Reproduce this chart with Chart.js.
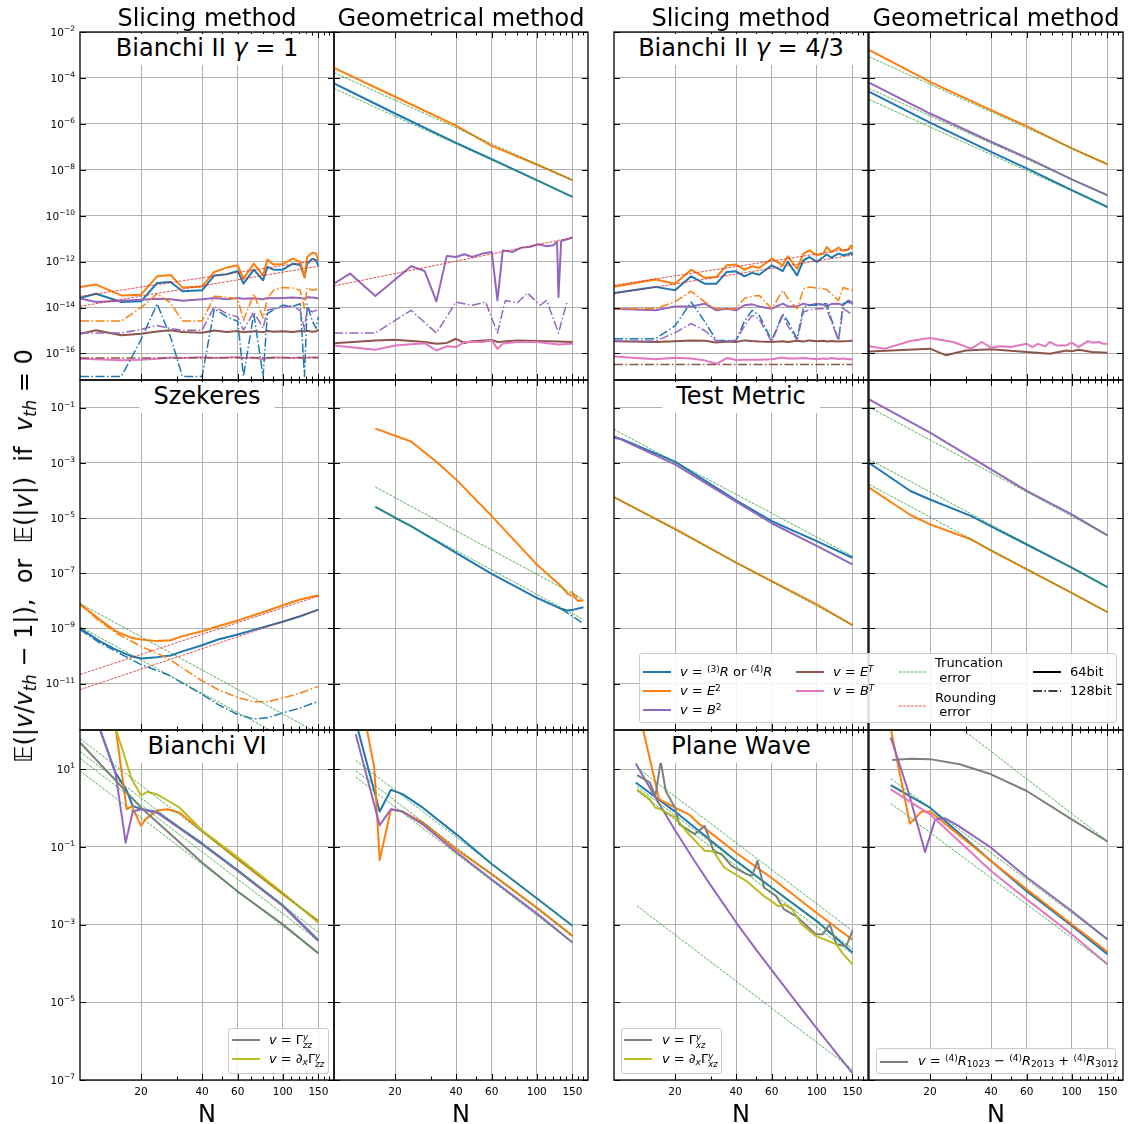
<!DOCTYPE html>
<html>
<head>
<meta charset="utf-8">
<script src="https://cdn.jsdelivr.net/npm/chart.js@4.4.1/dist/chart.umd.min.js"></script>
<style>
  body { margin: 0; background: #fff; }
  #fig { position: relative; width: 1131px; height: 1124px; overflow: hidden; font-family: "DejaVu Sans", sans-serif; color: #000; }
  #fig canvas { position: absolute; }
  .t { position: absolute; white-space: nowrap; font-size: 24px; line-height: 24px; }
  .tag { position: absolute; white-space: nowrap; font-size: 24px; line-height: 24px; background: #fff; padding: 2px 14px 5px 14px; transform: translateX(-50%); }
  .box { position: absolute; background: rgba(255,255,255,0.85); border: 1px solid #ccc; border-radius: 3px; box-sizing: border-box; }
  .lg { position: absolute; font-size: 13px; line-height: 18px; white-space: nowrap; }
  .lg svg { position: absolute; }
  sub, sup { font-size: 70%; line-height: 0; }
  sup { vertical-align: 0.45em; }
  sub { vertical-align: -0.25em; }
  .ss { display: inline-flex; flex-direction: column; font-size: 0.65em; line-height: 1; vertical-align: 0.5em; font-style: italic; }
</style>
</head>
<body>
<div id="fig"></div>
<script>
// matplotlib tab10 colours
var BLUE = '#1f77b4', ORANGE = '#ff7f0e', GREEN = '#2ca02c', RED = '#d62728', PURPLE = '#9467bd',
    BROWN = '#8c564b', PINK = '#e377c2', GRAY = '#7f7f7f', OLIVE = '#bcbd22';

// x axis (resolution N), shared by all panels
var xMajor = [20, 40, 60, 100, 150];
var xMinor = [30, 50, 70, 80, 90, 110, 120, 130, 140, 160, 170];
// y axis decades (powers of ten) for each row of panels
var yDecRow1 = [-16, -14, -12, -10, -8, -6, -4, -2];
var yDecRow2 = [-11, -9, -7, -5, -3, -1];
var yDecRow3 = [-7, -5, -3, -1, 1];

// every error value below is given as its power of ten
var nEnds = [10, 150];

// ---- Bianchi II gamma=1, slicing ----
var p1N = [10, 12, 16, 20, 24, 28, 32, 40, 46, 53, 60, 64, 72, 80, 84, 90, 100, 112, 122, 128, 132, 140, 146, 150];
var p1R = [-13.58, -13.40, -13.76, -13.73, -12.93, -12.89, -13.29, -13.25, -12.60, -12.55, -12.41, -12.96, -12.35, -12.81, -12.23, -12.35, -12.35, -12.09, -12.15, -12.67, -12.09, -11.87, -11.94, -12.20];
var p1E2 = [-13.10, -13.00, -13.47, -13.44, -12.64, -12.58, -13.13, -13.08, -12.45, -12.26, -12.16, -12.74, -12.09, -12.60, -11.91, -12.13, -12.10, -11.87, -12.00, -12.70, -11.80, -11.61, -11.65, -11.94];
var p1B2 = [-13.61, -13.76, -13.70, -13.66, -13.62, -13.64, -13.70, -13.64, -13.58, -13.64, -13.58, -13.62, -13.60, -13.64, -13.58, -13.60, -13.58, -13.56, -13.58, -13.62, -13.55, -13.56, -13.58, -13.61];
var p1ET = [-15.14, -14.99, -15.21, -15.14, -15.04, -14.99, -15.06, -15.10, -15.00, -15.06, -15.02, -15.08, -15.03, -15.07, -15.02, -15.05, -15.03, -15.06, -15.02, -15.04, -15.01, -15.05, -15.03, -14.97];
var p1BT = [-16.23, -16.25, -16.30, -16.27, -16.23, -16.18, -16.20, -16.16, -16.20, -16.18, -16.15, -16.20, -16.18, -16.25, -16.20, -16.18, -16.17, -16.20, -16.18, -16.20, -16.17, -16.18, -16.18, -16.20];
var p1Rq = [-17.0, -17.0, -17.0, -15.4, -13.83, -15.3, -17.0, -17.0, -14.05, -14.40, -14.60, -17.0, -14.27, -17.0, -14.27, -14.10, -13.90, -13.95, -13.83, -17.0, -13.85, -14.60, -14.90, -14.40];
var p1E2q = [-14.59, -14.59, -14.59, -14.00, -13.40, -13.80, -14.59, -14.59, -13.51, -13.55, -13.62, -14.56, -13.40, -14.45, -13.60, -13.25, -13.13, -13.15, -13.25, -14.05, -13.13, -13.25, -13.20, -13.28];
var p1B2q = [-15.11, -15.11, -15.11, -14.95, -14.78, -14.92, -14.99, -14.99, -13.95, -14.27, -14.41, -14.99, -14.19, -14.90, -14.12, -14.05, -14.00, -13.92, -14.15, -14.95, -14.05, -14.19, -14.12, -14.16];
var p1ETq = [-16.20, -16.18];
var p1Rd1 = [-13.51, -11.94];
var p1Rd2 = [-13.95, -12.20];

// ---- Bianchi II gamma=1, geometrical ----
var p2N = [10, 20, 40, 60, 100, 150];
var p2E2 = [-3.56, -4.82, -6.08, -6.96, -7.77, -8.45];
var p2R = [-4.24, -5.55, -6.83, -7.54, -8.45, -9.18];
var p2Tr1 = [-3.77, -8.45];
var p2Tr2 = [-4.46, -9.18];
var p2B2N = [10, 12, 16, 24, 28, 32, 36, 40, 44, 48, 54, 60, 64, 68, 76, 84, 92, 102, 112, 120, 126, 128, 132, 140, 150];
var p2B2 = [-12.96, -12.52, -13.50, -12.20, -12.41, -13.73, -11.75, -11.80, -11.68, -11.80, -11.65, -11.58, -13.69, -11.51, -11.58, -11.39, -11.36, -11.24, -11.33, -11.30, -11.14, -13.54, -11.10, -11.04, -10.95];
var p2Rd = [-13.06, -10.95];
var p2B2qN = [10, 16, 24, 32, 40, 48, 56, 64, 70, 80, 90, 104, 112, 128, 141];
var p2B2q = [-15.11, -15.11, -14.12, -15.11, -13.76, -13.90, -13.76, -15.11, -13.69, -13.80, -13.37, -13.90, -13.69, -15.11, -13.76];
var p2ETN = [10, 16, 20, 28, 32, 36, 40, 44, 48, 60, 64, 80, 100, 128, 150];
var p2ET = [-15.55, -15.43, -15.40, -15.50, -15.58, -15.54, -15.36, -15.54, -15.47, -15.41, -15.50, -15.44, -15.46, -15.48, -15.50];
var p2BTN = [10, 16, 20, 28, 32, 36, 40, 44, 54, 60, 64, 68, 80, 100, 128, 150];
var p2BT = [-15.65, -15.84, -15.65, -15.55, -15.87, -15.69, -15.72, -15.50, -15.50, -15.43, -15.80, -15.57, -15.50, -15.50, -15.61, -15.58];

// ---- Bianchi II gamma=4/3, slicing ----
var p3N = [10, 16, 20, 24, 28, 32, 36, 40, 44, 48, 52, 60, 68, 72, 80, 86, 92, 100, 108, 112, 118, 128, 135, 143, 148, 150];
var p3R = [-13.37, -13.10, -13.25, -12.64, -12.96, -12.96, -12.45, -12.42, -12.64, -12.49, -12.57, -12.16, -12.41, -12.01, -12.60, -11.94, -11.80, -12.01, -11.80, -11.68, -11.83, -11.65, -11.72, -11.68, -11.62, -11.72];
var p3E2 = [-13.10, -12.78, -12.96, -12.35, -12.70, -12.67, -12.16, -12.13, -12.35, -12.20, -12.28, -11.87, -12.16, -11.77, -12.31, -11.65, -11.51, -11.72, -11.65, -11.36, -11.58, -11.39, -11.53, -11.48, -11.29, -11.39];
var p3B2 = [-14.05, -14.12, -13.95, -13.95, -13.83, -14.12, -14.05, -14.12, -13.90, -13.86, -13.95, -14.05, -13.83, -13.95, -13.95, -13.83, -13.90, -13.83, -13.88, -13.95, -13.85, -13.83, -13.90, -13.69, -13.75, -13.86];
var p3ET = [-15.47, -15.50, -15.47, -15.44, -15.45, -15.52, -15.48, -15.50, -15.43, -15.46, -15.48, -15.50, -15.47, -15.50, -15.45, -15.48, -15.43, -15.47, -15.45, -15.48, -15.46, -15.48, -15.47, -15.46, -15.45, -15.45];
var p3BT = [-16.13, -16.25, -16.19, -16.22, -16.30, -16.45, -16.20, -16.28, -16.27, -16.27, -16.27, -16.25, -16.18, -16.22, -16.22, -16.20, -16.22, -16.25, -16.22, -16.24, -16.20, -16.24, -16.22, -16.25, -16.24, -16.27];
var p3Rq = [-15.36, -15.36, -14.80, -13.76, -14.60, -15.43, -15.43, -15.43, -14.60, -14.12, -14.34, -15.43, -14.27, -14.60, -15.36, -13.98, -13.90, -13.90, -13.83, -13.83, -14.50, -15.43, -13.83, -13.76, -13.83, -13.83];
var p3E2q = [-14.05, -14.05, -13.75, -13.29, -13.75, -14.05, -14.05, -14.05, -13.60, -13.51, -13.47, -14.05, -13.25, -13.60, -14.05, -13.20, -13.10, -13.15, -13.18, -13.22, -13.40, -13.69, -13.13, -13.20, -13.25, -13.25];
var p3B2q = [-15.46, -15.46, -15.10, -14.70, -15.00, -15.46, -15.46, -15.43, -14.80, -14.34, -14.49, -15.50, -14.34, -14.80, -15.43, -14.19, -14.10, -14.05, -14.05, -14.05, -14.60, -15.43, -14.05, -14.19, -14.27, -14.27];
var p3ETq = [-16.48, -16.48];
var p3Rd1 = [-13.03, -11.43];
var p3Rd2 = [-13.40, -11.72];

// ---- Bianchi II gamma=4/3, geometrical ----
var p4N = [10, 20, 40, 60, 100, 150];
var p4E2 = [-2.78, -4.17, -5.40, -6.10, -7.07, -7.76];
var p4B2 = [-4.21, -5.55, -6.78, -7.47, -8.42, -9.11];
var p4R = [-4.60, -5.95, -7.22, -7.94, -8.89, -9.62];
var p4Tr1 = [-3.08, -7.76];
var p4Tr2 = [-4.46, -9.11];
var p4Tr3 = [-4.94, -9.62];
var p4BTN = [10, 12, 16, 20, 26, 32, 36, 40, 44, 50, 60, 64, 68, 74, 78, 84, 94, 100, 108, 120, 126, 136, 144, 150];
var p4BT = [-15.68, -15.79, -15.46, -15.33, -15.50, -15.79, -15.50, -15.75, -15.69, -15.72, -15.58, -15.72, -15.58, -15.69, -15.50, -15.65, -15.65, -15.53, -15.72, -15.46, -15.53, -15.50, -15.58, -15.58];
var p4ETN = [10, 20, 24, 30, 40, 60, 78, 94, 100, 108, 126, 150];
var p4ET = [-15.91, -15.79, -16.08, -15.87, -15.82, -15.94, -16.01, -15.87, -15.90, -15.84, -15.94, -15.97];

// ---- Szekeres, slicing ----
var p5N = [10, 12.5, 15, 18, 20, 24, 28, 32, 40, 48, 60, 78, 100, 122, 150];
var p5E2 = [-8.11, -8.68, -9.10, -9.34, -9.40, -9.46, -9.43, -9.28, -9.10, -8.92, -8.71, -8.44, -8.16, -7.95, -7.80];
var p5R = [-9.00, -9.46, -9.77, -10.01, -10.09, -10.04, -9.98, -9.83, -9.61, -9.40, -9.22, -8.98, -8.76, -8.56, -8.32];
var p5qN = [10, 12.5, 15, 20, 27, 32, 39, 48, 60, 72, 84, 100, 122, 150];
var p5E2q = [-8.13, -8.74, -9.16, -9.65, -10.07, -10.43, -10.85, -11.22, -11.50, -11.66, -11.66, -11.52, -11.34, -11.10];
var p5Rq = [-9.04, -9.52, -9.83, -10.31, -10.67, -10.98, -11.34, -11.76, -12.12, -12.28, -12.24, -12.06, -11.88, -11.64];
var p5Tr1 = [-8.10, -12.80];
var p5Tr2 = [-8.94, -13.64];
var p5Rd1 = [-10.67, -7.83];
var p5Rd2 = [-11.22, -8.32];

// ---- Szekeres, geometrical ----
var p6E2N = [16, 24, 32, 40, 60, 100, 132, 142, 152, 160, 170];
var p6E2 = [-1.76, -2.23, -2.96, -3.60, -4.93, -6.68, -7.47, -7.75, -7.83, -8.01, -7.99];
var p6RN = [16, 20, 24, 40, 60, 100, 132, 141, 152, 170];
var p6R = [-4.60, -4.99, -5.29, -6.26, -7.02, -7.89, -8.29, -8.35, -8.32, -8.23];
var p6RqN = [132, 168];
var p6Rq = [-8.29, -8.80];
var p6E2qN = [148, 165];
var p6E2q = [-7.65, -7.99];
var p6TrN = [16, 170];
var p6Tr1 = [-3.88, -7.95];
var p6Tr2 = [-4.60, -8.68];

// ---- Test Metric, slicing ----
var p7RN = [10, 11, 20, 40, 60, 100, 150];
var p7R = [-2.09, -2.15, -2.96, -4.36, -5.11, -5.84, -6.44];
var p7N = [10, 20, 40, 60, 100, 150];
var p7B2 = [-2.03, -3.06, -4.41, -5.19, -6.01, -6.68];
var p7E2 = [-4.24, -5.39, -6.62, -7.29, -8.13, -8.88];
var p7Tr1 = [-1.79, -6.38];
var p7Tr2 = [-4.24, -8.88];

// ---- Test Metric, geometrical ----
var p8N = [10, 16, 20, 32, 40, 60, 100, 150];
var p8R = [-3.00, -4.02, -4.33, -4.93, -5.30, -5.96, -6.80, -7.50];
var p8E2 = [-3.90, -4.89, -5.23, -5.78, -6.18, -6.86, -7.71, -8.41];
var p8B2N = [10, 20, 40, 60, 100, 150];
var p8B2 = [-0.70, -1.91, -3.24, -4.02, -4.87, -5.63];
var p8Tr1 = [-0.98, -5.63];
var p8Tr2 = [-2.87, -7.50];
var p8Tr3 = [-3.78, -8.41];

// ---- Bianchi VI, slicing ----
var p9GN = [10, 20, 40, 60, 100, 150];
var p9G = [1.69, 0.01, -1.40, -2.15, -2.99, -3.74];
var p9dGN = [15, 18, 20, 21.5, 24, 28, 31, 40, 60, 100, 150];
var p9dG = [2.05, 0.74, 0.33, 0.42, 0.35, 0.15, 0.01, -0.57, -1.27, -2.18, -2.95];
var p9E2N = [15, 17, 18, 20, 21, 24, 27, 31, 40, 60, 100, 150];
var p9E2 = [2.05, -0.03, 0.05, -0.46, -0.29, -0.06, -0.03, -0.12, -0.59, -1.32, -2.22, -2.91];
var p9B2N = [12.5, 15, 16.8, 18.2, 20, 21.3, 24, 40, 60, 100, 150];
var p9B2 = [2.05, 0.87, -0.89, -0.09, -0.03, -0.06, -0.12, -0.93, -1.62, -2.52, -3.42];
var p9RN = [12.5, 15, 17, 18.2, 20, 24, 40, 60, 100, 150];
var p9R = [2.05, 0.90, 0.45, 0.05, -0.02, -0.10, -0.91, -1.60, -2.50, -3.40];
var p9Tr1 = [1.79, -2.91];
var p9Tr2 = [1.45, -3.20];
var p9Tr3 = [1.28, -3.42];
var p9Tr4 = [0.96, -3.74];

// ---- Bianchi VI, geometrical ----
var p10RN = [13, 16.8, 19.1, 21.8, 27.4, 40, 60, 100, 150];
var p10R = [2.10, -0.09, 0.47, 0.36, 0.01, -0.67, -1.44, -2.32, -3.03];
var p10B2N = [12.8, 16.8, 19.1, 21.8, 27.4, 40, 60, 100, 150];
var p10B2 = [1.90, -0.44, -0.03, -0.09, -0.42, -1.13, -1.84, -2.71, -3.46];
var p10E2N = [14.5, 15.8, 16.8, 19.1, 21.8, 27.4, 40, 60, 100, 150];
var p10E2 = [2.05, 1.04, -1.34, -0.03, -0.09, -0.37, -1.06, -1.70, -2.56, -3.29];
var p10TrN = [12.8, 150];
var p10Tr1 = [1.23, -3.03];
var p10Tr2 = [0.96, -3.29];
var p10Tr3 = [0.80, -3.46];

// ---- Plane Wave, slicing ----
var p11E2N = [13.8, 16.7, 20, 23.4, 26.5, 40, 60, 100, 150];
var p11E2 = [2.10, 0.23, 0.01, -0.16, -0.42, -1.15, -1.80, -2.70, -3.39];
var p11RN = [12.8, 20, 40, 60, 100, 150];
var p11R = [0.66, -0.09, -1.36, -2.05, -2.91, -3.72];
var p11B2N = [12.8, 16, 20, 25, 30, 40, 50, 60, 80, 100, 125, 150];
var p11B2 = [1.15, 0.28, -0.57, -1.37, -1.99, -2.94, -3.63, -4.17, -5.02, -5.67, -6.31, -6.82];
var p11GN = [13, 15, 16, 17, 18, 20, 21, 25, 28, 31, 34, 38, 45, 48, 51, 55, 63, 69, 79, 99, 107, 116, 125, 140, 150];
var p11G = [0.85, 0.66, 0.31, 1.21, 0.44, 0.01, -0.42, -0.67, -0.46, -1.11, -1.19, -1.49, -1.70, -1.74, -1.36, -2.05, -2.26, -2.61, -2.78, -3.25, -3.25, -2.99, -3.51, -3.55, -3.16];
var p11dGN = [13, 15, 16, 17, 20, 23, 28, 31, 35, 45, 56, 65, 69, 76, 84, 99, 125, 135, 150];
var p11dG = [0.48, 0.23, 0.01, -0.03, -0.24, -0.63, -1.10, -1.12, -1.53, -1.88, -2.30, -2.53, -2.48, -2.61, -2.99, -3.29, -3.51, -3.76, -4.02];
var p11TrN = [13, 150];
var p11Tr1 = [1.04, -3.16];
var p11Tr2 = [0.55, -3.62];
var p11Tr3 = [0.44, -3.76];
var p11Tr4 = [-2.52, -6.73];

// ---- Plane Wave, geometrical ----
var p12GN = [13, 16, 20, 28, 40, 60, 100, 150];
var p12G = [1.24, 1.27, 1.26, 1.13, 0.87, 0.44, -0.29, -0.86];
var p12E2N = [12.8, 15.9, 18.2, 20, 40, 60, 100, 150];
var p12E2 = [2.05, -0.40, -0.09, -0.09, -1.36, -2.09, -2.99, -3.70];
var p12B2N = [12.8, 15.6, 18.9, 21.2, 23.7, 27.6, 40, 60, 100, 150];
var p12B2 = [1.82, 0.44, -1.13, -0.29, -0.26, -0.46, -1.02, -1.78, -2.65, -3.38];
var p12N = [12.8, 20, 40, 60, 100, 150];
var p12R = [0.59, 0.01, -1.36, -2.14, -3.03, -3.76];
var p12BT = [0.48, -0.16, -1.62, -2.35, -3.25, -4.02];
var p12TrGN = [28, 150];
var p12TrG = [2.08, -0.85];
var p12TrN = [12.8, 150];
var p12Tr1 = [0.76, -3.38];
var p12Tr2 = [0.12, -4.02];

// ---------------------------------------------------------------
var STYLE = {
  solid: { w: 2, dash: [] },
  dd: { w: 1.5, dash: [9, 2.5, 1.5, 2.5] },
  tr: { w: 0.8, dash: [2.8, 1.2] }
};

function line(n, v, color, kind) {
  var st = STYLE[kind];
  return {
    data: n.map(function (x, i) { return { x: x, y: Math.pow(10, v[i]) }; }),
    borderColor: color, borderWidth: st.w, borderDash: st.dash,
    borderJoinStyle: 'round', pointRadius: 0, fill: false, tension: 0
  };
}

var panels = [
  { col: 0, row: 0, sets: [
    line(p1N, p1R, BLUE, 'solid'), line(p1N, p1E2, ORANGE, 'solid'), line(p1N, p1B2, PURPLE, 'solid'),
    line(p1N, p1ET, BROWN, 'solid'), line(p1N, p1BT, PINK, 'solid'),
    line(p1N, p1Rq, BLUE, 'dd'), line(p1N, p1E2q, ORANGE, 'dd'), line(p1N, p1B2q, PURPLE, 'dd'),
    line(nEnds, p1ETq, BROWN, 'dd'),
    line(nEnds, p1Rd1, RED, 'tr'), line(nEnds, p1Rd2, RED, 'tr') ] },
  { col: 1, row: 0, sets: [
    line(p2N, p2R, BLUE, 'solid'), line(p2N, p2E2, ORANGE, 'solid'), line(p2B2N, p2B2, PURPLE, 'solid'),
    line(p2ETN, p2ET, BROWN, 'solid'), line(p2BTN, p2BT, PINK, 'solid'), line(p2B2qN, p2B2q, PURPLE, 'dd'),
    line(nEnds, p2Tr1, GREEN, 'tr'), line(nEnds, p2Tr2, GREEN, 'tr'), line(nEnds, p2Rd, RED, 'tr') ] },
  { col: 2, row: 0, sets: [
    line(p3N, p3R, BLUE, 'solid'), line(p3N, p3E2, ORANGE, 'solid'), line(p3N, p3B2, PURPLE, 'solid'),
    line(p3N, p3ET, BROWN, 'solid'), line(p3N, p3BT, PINK, 'solid'),
    line(p3N, p3Rq, BLUE, 'dd'), line(p3N, p3E2q, ORANGE, 'dd'), line(p3N, p3B2q, PURPLE, 'dd'),
    line(nEnds, p3ETq, BROWN, 'dd'),
    line(nEnds, p3Rd1, RED, 'tr'), line(nEnds, p3Rd2, RED, 'tr') ] },
  { col: 3, row: 0, sets: [
    line(p4N, p4R, BLUE, 'solid'), line(p4N, p4E2, ORANGE, 'solid'), line(p4N, p4B2, PURPLE, 'solid'),
    line(p4ETN, p4ET, BROWN, 'solid'), line(p4BTN, p4BT, PINK, 'solid'),
    line(nEnds, p4Tr1, GREEN, 'tr'), line(nEnds, p4Tr2, GREEN, 'tr'), line(nEnds, p4Tr3, GREEN, 'tr') ] },
  { col: 0, row: 1, sets: [
    line(p5N, p5R, BLUE, 'solid'), line(p5N, p5E2, ORANGE, 'solid'),
    line(p5qN, p5Rq, BLUE, 'dd'), line(p5qN, p5E2q, ORANGE, 'dd'),
    line(nEnds, p5Tr1, GREEN, 'tr'), line(nEnds, p5Tr2, GREEN, 'tr'),
    line(nEnds, p5Rd1, RED, 'tr'), line(nEnds, p5Rd2, RED, 'tr') ] },
  { col: 1, row: 1, sets: [
    line(p6RN, p6R, BLUE, 'solid'), line(p6E2N, p6E2, ORANGE, 'solid'),
    line(p6RqN, p6Rq, BLUE, 'dd'), line(p6E2qN, p6E2q, ORANGE, 'dd'),
    line(p6TrN, p6Tr1, GREEN, 'tr'), line(p6TrN, p6Tr2, GREEN, 'tr') ] },
  { col: 2, row: 1, sets: [
    line(p7RN, p7R, BLUE, 'solid'), line(p7N, p7E2, ORANGE, 'solid'), line(p7N, p7B2, PURPLE, 'solid'),
    line(nEnds, p7Tr1, GREEN, 'tr'), line(nEnds, p7Tr2, GREEN, 'tr') ] },
  { col: 3, row: 1, sets: [
    line(p8N, p8R, BLUE, 'solid'), line(p8N, p8E2, ORANGE, 'solid'), line(p8B2N, p8B2, PURPLE, 'solid'),
    line(nEnds, p8Tr1, GREEN, 'tr'), line(nEnds, p8Tr2, GREEN, 'tr'), line(nEnds, p8Tr3, GREEN, 'tr') ] },
  { col: 0, row: 2, sets: [
    line(p9RN, p9R, BLUE, 'solid'), line(p9E2N, p9E2, ORANGE, 'solid'), line(p9B2N, p9B2, PURPLE, 'solid'),
    line(p9GN, p9G, GRAY, 'solid'), line(p9dGN, p9dG, OLIVE, 'solid'),
    line(nEnds, p9Tr1, GREEN, 'tr'), line(nEnds, p9Tr2, GREEN, 'tr'), line(nEnds, p9Tr3, GREEN, 'tr'), line(nEnds, p9Tr4, GREEN, 'tr') ] },
  { col: 1, row: 2, sets: [
    line(p10RN, p10R, BLUE, 'solid'), line(p10E2N, p10E2, ORANGE, 'solid'), line(p10B2N, p10B2, PURPLE, 'solid'),
    line(p10TrN, p10Tr1, GREEN, 'tr'), line(p10TrN, p10Tr2, GREEN, 'tr'), line(p10TrN, p10Tr3, GREEN, 'tr') ] },
  { col: 2, row: 2, sets: [
    line(p11RN, p11R, BLUE, 'solid'), line(p11E2N, p11E2, ORANGE, 'solid'), line(p11B2N, p11B2, PURPLE, 'solid'),
    line(p11GN, p11G, GRAY, 'solid'), line(p11dGN, p11dG, OLIVE, 'solid'),
    line(p11TrN, p11Tr1, GREEN, 'tr'), line(p11TrN, p11Tr2, GREEN, 'tr'), line(p11TrN, p11Tr3, GREEN, 'tr'), line(p11TrN, p11Tr4, GREEN, 'tr') ] },
  { col: 3, row: 2, sets: [
    line(p12N, p12R, BLUE, 'solid'), line(p12E2N, p12E2, ORANGE, 'solid'), line(p12B2N, p12B2, PURPLE, 'solid'),
    line(p12N, p12BT, PINK, 'solid'), line(p12GN, p12G, GRAY, 'solid'),
    line(p12TrGN, p12TrG, GREEN, 'tr'), line(p12TrN, p12Tr1, GREEN, 'tr'), line(p12TrN, p12Tr2, GREEN, 'tr') ] }
];

// layout of the panel grid (pixels)
var colX = [80, 334, 614, 869];
var rowY = [32, 380, 730];
var rowH = [348, 350, 350];
var panelW = 254;
var yRange = [[-17.15, -2], [-12.68, 0], [-7, 2.01]];
var yDecs = [yDecRow1, yDecRow2, yDecRow3];

var fig = document.getElementById('fig');

// inward ticks, spines and tick labels
function axisDeco(showY, showX, decs) {
  return {
    id: 'axisDeco',
    afterDraw: function (chart) {
      var ctx = chart.ctx, a = chart.chartArea, xs = chart.scales.x, ys = chart.scales.y;
      ctx.save();
      ctx.strokeStyle = '#000';
      ctx.lineWidth = 1;
      ctx.beginPath();
      function tx(v, len) {
        var p = Math.round(xs.getPixelForValue(v)) + 0.5;
        ctx.moveTo(p, a.bottom); ctx.lineTo(p, a.bottom - len);
        ctx.moveTo(p, a.top); ctx.lineTo(p, a.top + len);
      }
      xMajor.forEach(function (v) { tx(v, 6); });
      xMinor.forEach(function (v) { tx(v, 3.5); });
      decs.forEach(function (e) {
        var p = Math.round(ys.getPixelForValue(Math.pow(10, e))) + 0.5;
        ctx.moveTo(a.left, p); ctx.lineTo(a.left + 6, p);
        ctx.moveTo(a.right, p); ctx.lineTo(a.right - 6, p);
      });
      ctx.stroke();
      ctx.lineWidth = 1.3;
      ctx.strokeRect(a.left, a.top, a.right - a.left, a.bottom - a.top);
      ctx.fillStyle = '#000';
      if (showY) {
        decs.forEach(function (e) {
          var p = ys.getPixelForValue(Math.pow(10, e));
          var ex = (e < 0 ? '\u2212' : '') + Math.abs(e);
          ctx.font = '7.5px "DejaVu Sans"';
          var we = ctx.measureText(ex).width;
          ctx.textAlign = 'left';
          ctx.textBaseline = 'alphabetic';
          ctx.fillText(ex, a.left - 5 - we, p - 1);
          ctx.font = '10.5px "DejaVu Sans"';
          var wb = ctx.measureText('10').width;
          ctx.fillText('10', a.left - 5 - we - wb, p + 3.8);
        });
      }
      if (showX) {
        ctx.font = '10.5px "DejaVu Sans"';
        ctx.textAlign = 'center';
        ctx.textBaseline = 'alphabetic';
        xMajor.forEach(function (v) {
          ctx.fillText(String(v), xs.getPixelForValue(v), a.bottom + 15);
        });
      }
      ctx.restore();
    }
  };
}

panels.forEach(function (pn) {
  var c = pn.col, r = pn.row;
  var padL = c === 0 ? 80 : 2, padR = 2, padT = c === 0 ? 12 : 2, padB = r === 2 ? 22 : 2;
  var cv = document.createElement('canvas');
  cv.width = panelW + padL + padR;
  cv.height = rowH[r] + padT + padB;
  cv.style.left = (colX[c] - padL) + 'px';
  cv.style.top = (rowY[r] - padT) + 'px';
  cv.style.width = cv.width + 'px';
  cv.style.height = cv.height + 'px';
  fig.appendChild(cv);
  var decs = yDecs[r];
  new Chart(cv.getContext('2d'), {
    type: 'line',
    data: { datasets: pn.sets.slice().reverse() },
    plugins: [axisDeco(c === 0, r === 2, decs)],
    options: {
      responsive: false,
      animation: false,
      devicePixelRatio: 1,
      layout: { padding: { left: padL, right: padR, top: padT, bottom: padB }, autoPadding: false },
      plugins: { legend: { display: false }, tooltip: { enabled: false } },
      scales: {
        x: {
          type: 'logarithmic', min: 10, max: 179,
          ticks: { display: false },
          grid: { color: '#b0b0b0', lineWidth: 1, drawTicks: false },
          border: { display: false },
          afterBuildTicks: function (s) { s.ticks = xMajor.map(function (v) { return { value: v }; }); }
        },
        y: {
          type: 'logarithmic', min: Math.pow(10, yRange[r][0]), max: Math.pow(10, yRange[r][1]),
          ticks: { display: false },
          grid: { color: '#b0b0b0', lineWidth: 1, drawTicks: false },
          border: { display: false },
          afterBuildTicks: function (s) { s.ticks = decs.map(function (e) { return { value: Math.pow(10, e) }; }); }
        }
      }
    }
  });
});

// ---- text: column headers, panel names, axis titles ----
function addText(cls, html, css) {
  var d = document.createElement('div');
  d.className = cls;
  d.innerHTML = html;
  for (var k in css) d.style[k] = css[k];
  fig.appendChild(d);
  return d;
}
var colMid = [207, 461, 741, 996];
['Slicing method', 'Geometrical method', 'Slicing method', 'Geometrical method'].forEach(function (s, i) {
  addText('t', s, { left: colMid[i] + 'px', top: '6px', transform: 'translateX(-50%)' });
});
[[0, 0, 'Bianchi II <i>γ</i> = 1'], [2, 0, 'Bianchi II <i>γ</i> = 4/3'],
 [0, 1, 'Szekeres'], [2, 1, 'Test Metric'],
 [0, 2, 'Bianchi VI'], [2, 2, 'Plane Wave']].forEach(function (t) {
  addText('tag', t[2], { left: colMid[t[0]] + 'px', top: (rowY[t[1]] + 1.5) + 'px' });
});
[0, 1, 2, 3].forEach(function (i) {
  addText('t', 'N', { left: colMid[i] + 'px', top: '1102px', transform: 'translateX(-50%)' });
});
addText('t', '𝔼(|<i>v</i>/<i>v</i><sub><i>th</i></sub> − 1|),&nbsp; or &nbsp;𝔼(|<i>v</i>|) &nbsp;if &nbsp;<i>v</i><sub><i>th</i></sub> = 0',
  { left: '24px', top: '556px', transform: 'translate(-50%,-50%) rotate(-90deg)' });

// ---- legends ----
function legBox(x, y, w, h) {
  addText('box', '', { left: x + 'px', top: y + 'px', width: w + 'px', height: h + 'px' });
}
function legLine(x, y, color, kind) {
  var st = STYLE[kind];
  var d = addText('lg', '<svg width="28" height="10"><line x1="0" y1="5" x2="28" y2="5" stroke="' + color +
    '" stroke-width="' + st.w + '" stroke-dasharray="' + st.dash.join(' ') + '"/></svg>',
    { left: x + 'px', top: (y - 5) + 'px', width: '28px', height: '10px' });
  d.firstChild.style.left = '0px'; d.firstChild.style.top = '0px';
}
function legText(x, y, html) {
  addText('lg', html, { left: x + 'px', top: (y - 9) + 'px' });
}
var Gss = function (a, b) { return 'Γ<span class="ss"><span>' + a + '</span><span>' + b + '</span></span>'; };

legBox(639, 653, 478, 70);
legLine(643, 672, BLUE, 'solid');   legText(680, 672, '<i>v</i> = <sup>(3)</sup><i>R</i> or <sup>(4)</sup><i>R</i>');
legLine(643, 691, ORANGE, 'solid'); legText(680, 691, '<i>v</i> = <i>E</i><sup>2</sup>');
legLine(643, 710, PURPLE, 'solid'); legText(680, 710, '<i>v</i> = <i>B</i><sup>2</sup>');
legLine(796, 672, BROWN, 'solid');  legText(833, 672, '<i>v</i> = <i>E</i><sup><i>T</i></sup>');
legLine(796, 691, PINK, 'solid');   legText(833, 691, '<i>v</i> = <i>B</i><sup><i>T</i></sup>');
legLine(899, 672, GREEN, 'tr');     legText(935, 663, 'Truncation'); legText(935, 678, '&nbsp;error');
legLine(899, 706, RED, 'tr');       legText(935, 698, 'Rounding');   legText(935, 712, '&nbsp;error');
legLine(1033, 672, '#000', 'solid'); legText(1070, 672, '64bit');
legLine(1033, 691, '#000', 'dd');    legText(1070, 691, '128bit');

legBox(228, 1028, 101, 46);
legLine(232, 1040, GRAY, 'solid');  legText(269, 1040, '<i>v</i> = ' + Gss('y', 'zz'));
legLine(232, 1059, OLIVE, 'solid'); legText(269, 1059, '<i>v</i> = ∂<sub><i>x</i></sub>' + Gss('y', 'zz'));

legBox(621, 1028, 101, 46);
legLine(624, 1040, GRAY, 'solid');  legText(662, 1040, '<i>v</i> = ' + Gss('y', 'xz'));
legLine(624, 1059, OLIVE, 'solid'); legText(662, 1059, '<i>v</i> = ∂<sub><i>x</i></sub>' + Gss('y', 'xz'));

legBox(876, 1048, 240, 26);
legLine(880, 1062, GRAY, 'solid');
legText(918, 1061, '<i>v</i> = <sup>(4)</sup><i>R</i><sub>1023</sub> − <sup>(4)</sup><i>R</i><sub>2013</sub> + <sup>(4)</sup><i>R</i><sub>3012</sub>');
</script>
</body>
</html>
